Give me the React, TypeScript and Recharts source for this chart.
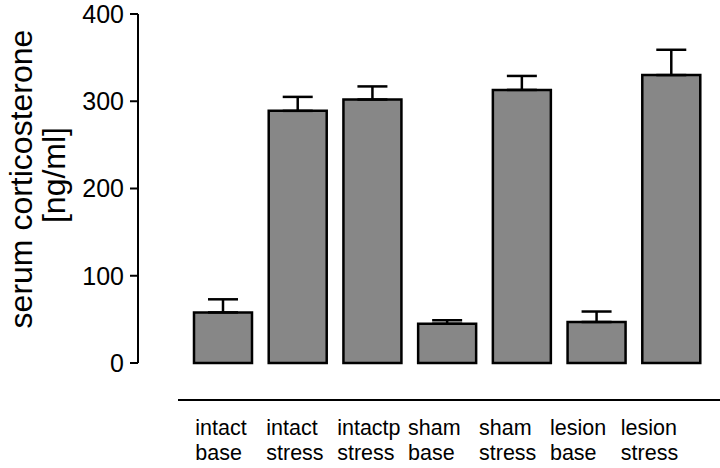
import React from 'react';
import { BarChart, Bar, XAxis, YAxis, ErrorBar } from 'recharts';

const groups = ['intact|base', 'intact|stress', 'intactp|stress', 'sham|base', 'sham|stress', 'lesion|base', 'lesion|stress'];
const means = [58, 289, 302, 45, 313, 47, 330];
const sem = [15, 16, 15, 4, 16, 12, 29];
const yTicks = [0, 100, 200, 300, 400];

const data = groups.map((g, i) => ({ group: g, value: means[i], err: [0, sem[i]] }));

const FONT = '"Liberation Sans", Arial, sans-serif';

const GroupTick = (props: any) => {
  const { x, payload, index } = props;
  const [l1, l2] = String(payload.value).split('|');
  const left = x - 28 - index * 3.8;
  return (
    <g fontSize={21.5} fontFamily={FONT} fill="#000">
      <text x={left} y={435} textAnchor="start">{l1}</text>
      <text x={left} y={460} textAnchor="start">{l2}</text>
    </g>
  );
};

const YLabel = () => (
  <g fontFamily={FONT} fontSize={32} fill="#000">
    <text x={21} y={179} transform="rotate(-90 21 179)" textAnchor="middle" dominantBaseline="central">
      serum corticosterone
    </text>
    <text x={54} y={175} transform="rotate(-90 54 175)" textAnchor="middle" dominantBaseline="central">
      [ng/ml]
    </text>
  </g>
);

const App: React.FC = () => {
  return (
    <div style={{ position: 'fixed', left: 0, top: 0, width: 720, height: 468, background: '#fff' }}>
      <BarChart width={720} height={468} data={data} margin={{ top: 14, right: 11, bottom: 0, left: 0 }}>
        <XAxis
          dataKey="group"
          axisLine={false}
          tickLine={false}
          height={105}
          interval={0}
          padding={{ left: 48, right: 0 }}
          tick={<GroupTick />}
        />
        <YAxis
          width={138}
          domain={[0, 400]}
          ticks={yTicks}
          stroke="#000"
          strokeWidth={2}
          tickSize={8}
          tickMargin={6}
          tick={{ fill: '#000', fontSize: 25, fontFamily: FONT }}
          label={{ content: () => <YLabel /> }}
        />
        <Bar dataKey="value" fill="#878787" stroke="#000" strokeWidth={2.5} barSize={58} isAnimationActive={false}>
          <ErrorBar dataKey="err" width={15} stroke="#000" strokeWidth={2.5} isAnimationActive={false} />
        </Bar>
      </BarChart>
      <div style={{ position: 'absolute', left: 178, top: 399, width: 542, height: 0, borderTop: '2px solid #000' }} />
    </div>
  );
};

export default App;
